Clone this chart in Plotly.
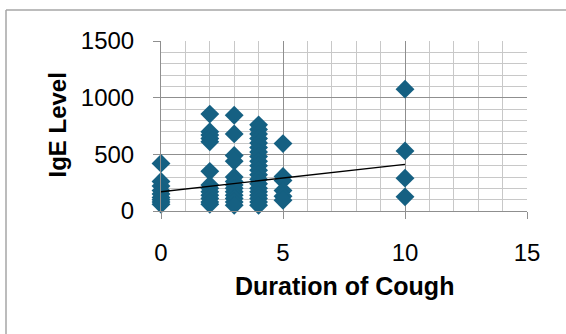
import plotly.graph_objects as go

# ---- data ----
dur_0 = [420, 260, 220, 180, 150, 120, 100, 80, 60]
dur_2 = [855, 700, 670, 640, 610, 350, 230, 200, 170, 140, 110, 80, 60]
dur_3 = [845, 680, 490, 440, 300, 260, 230, 200, 170, 140, 110, 80, 50]
dur_4 = [760, 720, 680, 640, 600, 560, 520, 480, 440, 400, 360, 320,
         280, 240, 200, 170, 140, 110, 80, 50]
dur_5 = [595, 305, 270, 180, 130, 95]
dur_10 = [1075, 530, 290, 125]

groups = {0: dur_0, 2: dur_2, 3: dur_3, 4: dur_4, 5: dur_5, 10: dur_10}
xs, ys = [], []
for k, vals in groups.items():
    xs += [k] * len(vals)
    ys += vals

trend_x = [0, 10]
trend_y = [170, 412]

x_ticks = [0, 5, 10, 15]
y_ticks = [0, 500, 1000, 1500]

# ---- layout geometry (pixels) ----
W, H = 566, 334
L, R, T, B = 161, 527, 41, 211

def px(xp):
    return (xp - L) / (R - L)

def py(yp):
    return (B - yp) / (B - T)

BLUE = "#156082"
MAJOR = "#8f8f8f"
MINOR = "#c8c8c8"
FONT = "Liberation Sans, Arial, sans-serif"

fig = go.Figure()
fig.add_trace(go.Scatter(
    x=xs, y=ys, mode="markers",
    marker=dict(symbol="diamond", size=14.5, color=BLUE, line=dict(width=0)),
    cliponaxis=False, showlegend=False, hoverinfo="skip"))
fig.add_trace(go.Scatter(
    x=trend_x, y=trend_y, mode="lines",
    line=dict(color="black", width=1.3),
    cliponaxis=False, showlegend=False, hoverinfo="skip"))

axis_common = dict(
    showline=True, linecolor=MAJOR, linewidth=1,
    showgrid=True, gridcolor=MAJOR, gridwidth=1,
    ticks="outside", ticklen=7, tickcolor=MAJOR, tickwidth=1,
    tickfont=dict(family=FONT, size=24, color="black"),
    zeroline=False, fixedrange=True,
)

fig.update_xaxes(
    range=[0, 15], tickvals=x_ticks, ticklabelstandoff=13,
    minor=dict(dtick=1, showgrid=True, gridcolor=MINOR, gridwidth=1, ticks=""),
    **axis_common)
fig.update_yaxes(
    range=[0, 1500], tickvals=y_ticks, ticklabelstandoff=14,
    minor=dict(dtick=100, showgrid=True, gridcolor=MINOR, gridwidth=1, ticks=""),
    **axis_common)

fig.update_layout(
    width=W, height=H,
    margin=dict(l=L, r=W - R, t=T, b=H - B, pad=0),
    paper_bgcolor="white", plot_bgcolor="white",
    font=dict(family=FONT, color="black"),
    annotations=[
        dict(text="<b>Duration of Cough</b>", xref="paper", yref="paper",
             x=px(344.5), y=py(286), xanchor="center", yanchor="middle",
             showarrow=False, font=dict(family=FONT, size=25, color="black")),
        dict(text="<b>IgE Level</b>", xref="paper", yref="paper",
             x=px(57), y=py(125.5), xanchor="center", yanchor="middle",
             textangle=-90, showarrow=False,
             font=dict(family=FONT, size=24, color="black")),
    ],
    shapes=[
        dict(type="line", xref="paper", yref="paper",
             x0=px(6), x1=px(W + 5), y0=py(10), y1=py(10),
             line=dict(color="#a6a6a6", width=1.5)),
        dict(type="line", xref="paper", yref="paper",
             x0=px(6), x1=px(6), y0=py(10), y1=py(H + 5),
             line=dict(color="#a6a6a6", width=1.5)),
    ],
)

fig.write_html("out.html")
